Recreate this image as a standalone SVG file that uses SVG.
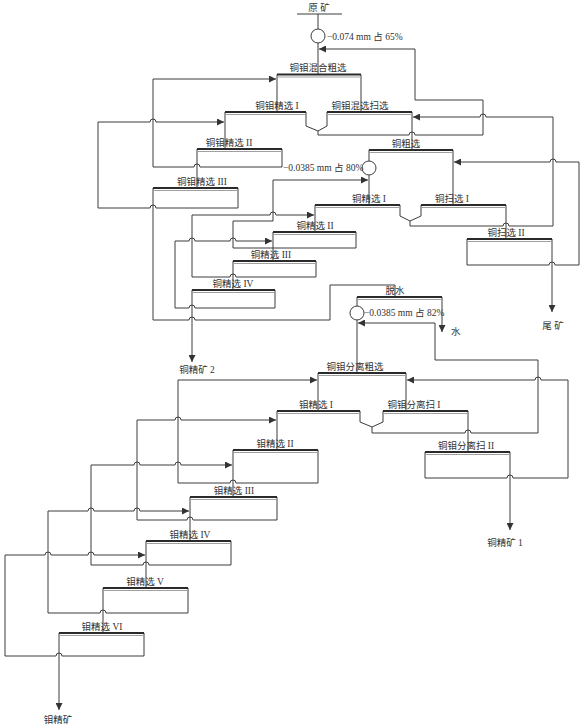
<svg xmlns="http://www.w3.org/2000/svg" width="586" height="728" viewBox="0 0 586 728">
<defs>
<marker id="ah" viewBox="0 0 10 10" refX="10" refY="5" markerWidth="8" markerHeight="7" markerUnits="userSpaceOnUse" orient="auto"><path d="M0,0 L10,5 L0,10 z" fill="#333"/></marker>
<style>
.ln{fill:none;stroke:#3c3c3c;stroke-width:1}
.ar{fill:none;stroke:#3c3c3c;stroke-width:1;marker-end:url(#ah)}
.tp{fill:none;stroke:#2a2a2a;stroke-width:2.2}
.t2{fill:none;stroke:#a0a0a0;stroke-width:1}
.cc{fill:#fff;stroke:#3c3c3c;stroke-width:1}
.lb{font-family:"Liberation Serif","Noto Sans CJK SC",serif;font-size:9.5px;fill:#333;text-anchor:middle}
.ls{font-family:"Liberation Serif","Noto Sans CJK SC",serif;font-size:9.5px;fill:#333}
</style>
</defs>
<rect width="586" height="728" fill="#fff"/>

<g id="connectors">
<path class="ln" d="M297,14 H342 M318,14 V29 M318,43 V74.5"/>
<path class="ar" d="M318,131 V135 H409 A3 3 0 0 1 415 135 H483 V100 H415 V49 H319"/>
<path class="ar" d="M410,221 V226 H503 A3 3 0 0 1 509 226 H553 V117 H486 A3 3 0 0 0 480 117 H413"/>
<path class="ar" d="M467,265 H549 A3 3 0 0 1 555 265 H579 V162 H556 A3 3 0 0 0 550 162 H454"/>
<path class="ln" d="M412,112 V150 M225,112 V149 M197,149 V188"/>
<path class="ar" d="M282,167 H200 A3 3 0 0 0 194 167 H153 V79 H276"/>
<path class="ar" d="M238,208 H156 A3 3 0 0 0 150 208 H98 V122 H150 A3 3 0 0 1 156 122 H224"/>
<path class="ln" d="M153,188 V320 H189 A3 3 0 0 1 195 320 H330 V285 H395 V297"/>
<path class="ln" d="M369,150 V161 M369,175 V205 M453,150 V205 M506,205 V239 M315,205 V232"/>
<path class="ar" d="M356,248 H233 V221 H273 V180 H368"/>
<path class="ln" d="M273,232 V261 M233,261 V290"/>
<path class="ar" d="M316,277 H236 A3 3 0 0 0 230 277 H192 V215 H270 A3 3 0 0 1 276 215 H314"/>
<path class="ar" d="M275,308 H195 A3 3 0 0 0 189 308 H175 V241 H189 A3 3 0 0 1 195 241 H230 A3 3 0 0 1 236 241 H272"/>
<path class="ar" d="M192,290 V362"/>
<path class="ar" d="M552,239 V312"/>
<path class="ln" d="M357,297 V306 M357,320 V373"/>
<path class="ar" d="M442,297 V332"/>
<path class="ar" d="M372,427 V433 H465 A3 3 0 0 1 471 433 H538 V360 H435 V323 H358"/>
<path class="ar" d="M425,478 H507 A3 3 0 0 1 513 478 H568 V380 H541 A3 3 0 0 0 535 380 H407"/>
<path class="ln" d="M468,411 V452 M277,411 V450 M233,450 V497 M190,497 V541 M146,541 V588 M103,588 V633"/>
<path class="ar" d="M510,452 V530"/>
<path class="ar" d="M318,483 H236 A3 3 0 0 0 230 483 H178 V380 H317"/>
<path class="ar" d="M277,520 H193 A3 3 0 0 0 187 520 H137 V420 H175 A3 3 0 0 1 181 420 H276"/>
<path class="ar" d="M231,565 H149 A3 3 0 0 0 143 565 H91 V465 H134 A3 3 0 0 1 140 465 H175 A3 3 0 0 1 181 465 H232"/>
<path class="ar" d="M188,613 H106 A3 3 0 0 0 100 613 H48 V511 H88 A3 3 0 0 1 94 511 H134 A3 3 0 0 1 140 511 H189"/>
<path class="ar" d="M144,656 H62 A3 3 0 0 0 56 656 H5 V555 H45 A3 3 0 0 1 51 555 H88 A3 3 0 0 1 94 555 H145"/>
<path class="ar" d="M59,633 V710"/>
</g>

<g id="ore"><text class="lb" x="319" y="11">原 矿</text></g>
<g id="classify1"><circle class="cc" cx="318" cy="36" r="7"/><text class="ls" x="327" y="40">−0.074 mm 占 65%</text></g>

<g id="bulk-rougher"><path class="ln" d="M277,112 V74.5 H361 V112"/><path class="tp" d="M277,74.5 H361"/><path class="t2" d="M278,77 H360"/><text class="lb" x="318" y="71">铜钼混合粗选</text></g>
<g id="bulk-cleaner1-scav"><path class="ln" d="M306,112 V126 L318,131 L327,126 V112"/><path class="tp" d="M225,112 H306 M327,112 H412"/><path class="t2" d="M226,114.5 H305 M328,114.5 H411"/><text class="lb" x="277" y="109">铜钼精选 I</text><text class="lb" x="360" y="109">铜钼混选扫选</text></g>
<g id="bulk-cleaner2"><path class="ln" d="M197,149 H282 V167"/><path class="tp" d="M197,149 H282"/><path class="t2" d="M198,151.5 H281"/><text class="lb" x="229" y="146">铜钼精选 II</text></g>
<g id="bulk-cleaner3"><path class="ln" d="M153,188 H238 V208"/><path class="tp" d="M153,188 H238"/><path class="t2" d="M154,190.5 H237"/><text class="lb" x="202" y="185">铜钼精选 III</text></g>

<g id="classify2"><circle class="cc" cx="369" cy="168" r="7"/><text class="ls" x="283" y="171">−0.0385 mm 占 80%</text></g>
<g id="cu-rougher"><path class="tp" d="M369,150 H453"/><path class="t2" d="M370,152.5 H452"/><text class="lb" x="406" y="147">铜粗选</text></g>
<g id="cu-cleaner1-scav1"><path class="ln" d="M400,205 V216 L410,221 L421,216 V205"/><path class="tp" d="M315,205 H400 M421,205 H506"/><path class="t2" d="M316,207.5 H399 M422,207.5 H505"/><text class="lb" x="369" y="202">铜精选 I</text><text class="lb" x="452" y="202">铜扫选 I</text></g>
<g id="cu-cleaner2"><path class="ln" d="M273,232 H356 V248"/><path class="tp" d="M273,232 H356"/><path class="t2" d="M274,234.5 H355"/><text class="lb" x="315" y="229">铜精选 II</text></g>
<g id="cu-scav2"><path class="ln" d="M467,265 V239 H552"/><path class="tp" d="M467,239 H552"/><path class="t2" d="M468,241.5 H551"/><text class="lb" x="506" y="236">铜扫选 II</text></g>
<g id="cu-cleaner3"><path class="ln" d="M233,261 H316 V277"/><path class="tp" d="M233,261 H316"/><path class="t2" d="M234,263.5 H315"/><text class="lb" x="271" y="258">铜精选 III</text></g>
<g id="cu-cleaner4"><path class="ln" d="M192,290 H275 V308"/><path class="tp" d="M192,290 H275"/><path class="t2" d="M193,292.5 H274"/><text class="lb" x="233" y="287">铜精选 IV</text></g>
<g id="tailings"><text class="lb" x="553" y="329">尾 矿</text></g>
<g id="cu-conc2"><text class="lb" x="197" y="373">铜精矿 2</text></g>

<g id="dewater"><path class="tp" d="M357,297 H442"/><path class="t2" d="M358,299.5 H441"/><text class="lb" x="395" y="294">脱水</text><text class="ls" x="451" y="335">水</text></g>
<g id="classify3"><circle class="cc" cx="357" cy="313" r="7"/><text class="ls" x="364" y="316">−0.0385 mm 占 82%</text></g>
<g id="sep-rougher"><path class="ln" d="M318,411 V373 H406 V411"/><path class="tp" d="M318,373 H406"/><path class="t2" d="M319,375.5 H405"/><text class="lb" x="355" y="370">铜钼分离粗选</text></g>
<g id="mo-cleaner1-sepscav1"><path class="ln" d="M360,411 V422 L372,427 L383,422 V411"/><path class="tp" d="M277,411 H360 M383,411 H468"/><path class="t2" d="M278,413.5 H359 M384,413.5 H467"/><text class="lb" x="316" y="408">钼精选 I</text><text class="lb" x="414" y="408">铜钼分离扫 I</text></g>
<g id="mo-cleaner2"><path class="ln" d="M233,450 H318 V483"/><path class="tp" d="M233,450 H318"/><path class="t2" d="M234,452.5 H317"/><text class="lb" x="275" y="447">钼精选 II</text></g>
<g id="sep-scav2"><path class="ln" d="M425,478 V452 H510"/><path class="tp" d="M425,452 H510"/><path class="t2" d="M426,454.5 H509"/><text class="lb" x="466" y="449">铜钼分离扫 II</text></g>
<g id="cu-conc1"><text class="lb" x="505" y="546">铜精矿 1</text></g>
<g id="mo-cleaner3"><path class="ln" d="M190,497 H277 V520"/><path class="tp" d="M190,497 H277"/><path class="t2" d="M191,499.5 H276"/><text class="lb" x="234" y="494">钼精选 III</text></g>
<g id="mo-cleaner4"><path class="ln" d="M146,541 H231 V565"/><path class="tp" d="M146,541 H231"/><path class="t2" d="M147,543.5 H230"/><text class="lb" x="190" y="538">钼精选 IV</text></g>
<g id="mo-cleaner5"><path class="ln" d="M103,588 H188 V613"/><path class="tp" d="M103,588 H188"/><path class="t2" d="M104,590.5 H187"/><text class="lb" x="145" y="585">钼精选 V</text></g>
<g id="mo-cleaner6"><path class="ln" d="M59,633 H144 V656"/><path class="tp" d="M59,633 H144"/><path class="t2" d="M60,635.5 H143"/><text class="lb" x="102" y="630">钼精选 VI</text></g>
<g id="mo-conc"><text class="lb" x="58" y="723">钼精矿</text></g>
</svg>
